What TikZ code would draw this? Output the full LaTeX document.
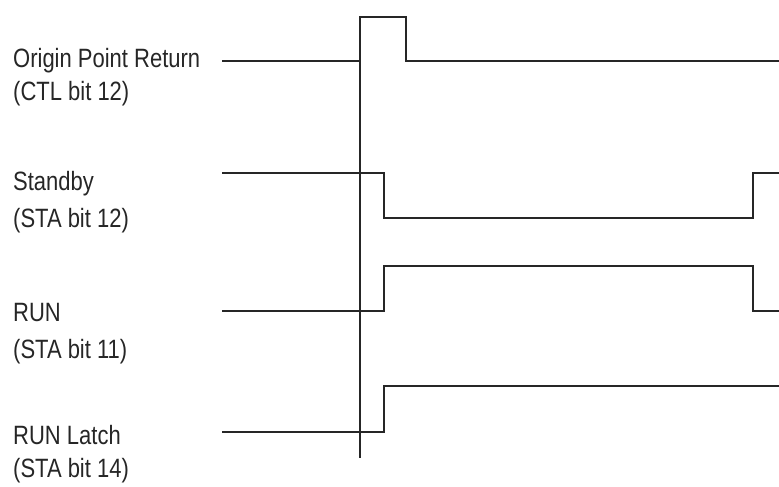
\documentclass[tikz,border=0pt]{standalone}
\usepackage{fontspec}
\setmainfont{Liberation Sans}[FakeStretch=0.83]
\begin{document}
\begin{tikzpicture}[x=1pt,y=-1pt,
  wave/.style={line width=1.6pt,line join=miter,black!85},
  lbl/.style={anchor=base west,inner sep=0pt,font=\fontsize{26.5}{30}\selectfont,text=black!85}]
\useasboundingbox (0,0) rectangle (779,487);
% labels
\node[lbl] (l1a) at (13,67) {Origin Point Return};
\node[lbl] (l1b) at (13,100) {(CTL bit 12)};
\node[lbl] (l2a) at (13,190) {Standby};
\node[lbl] (l2b) at (13,227) {(STA bit 12)};
\node[lbl] (l3a) at (13,321) {RUN};
\node[lbl] (l3b) at (13,358) {(STA bit 11)};
\node[lbl] (l4a) at (13,444) {RUN Latch};
\node[lbl] (l4b) at (13,477) {(STA bit 14)};
% reference vertical line
\draw[wave] (360,17) -- (360,458);
% Origin Point Return
\draw[wave] (222,61) -- (360,61) -- (360,17) -- (406,17) -- (406,61) -- (779,61);
% Standby
\draw[wave] (222,173) -- (384,173) -- (384,218) -- (753,218) -- (753,173) -- (779,173);
% RUN
\draw[wave] (222,311) -- (384,311) -- (384,266) -- (753,266) -- (753,311) -- (779,311);
% RUN Latch
\draw[wave] (222,432) -- (384,432) -- (384,386) -- (779,386);
\end{tikzpicture}
\end{document}
